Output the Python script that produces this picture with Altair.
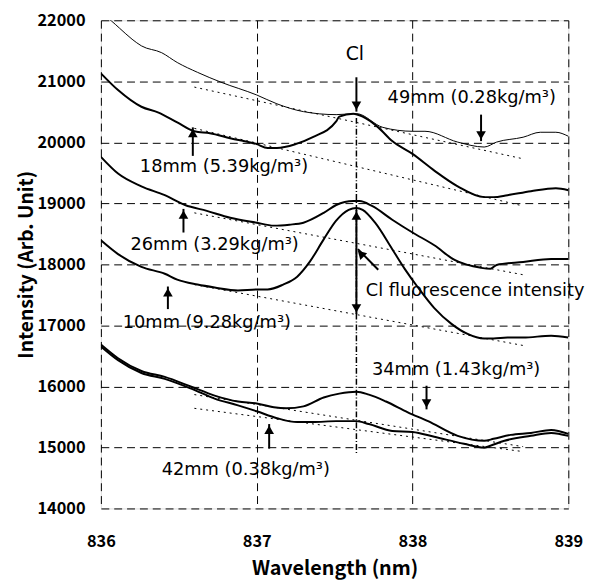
import altair as alt
import pandas as pd

FONT = "Noto Sans CJK JP"
AFONT = "DejaVu Sans"

# ---- spectra ----
x49 = [836.0, 836.07, 836.12, 836.2, 836.26, 836.39, 836.49, 836.62, 836.77, 837.00, 837.13, 837.30, 837.51,
       837.64, 837.81, 838.00, 838.08, 838.29, 838.46, 838.54, 838.71, 838.82, 838.92, 839.0]
y49 = [22120, 21984, 21870, 21690, 21581, 21469, 21308, 21147, 20986, 20776, 20631, 20503, 20454,
       20470, 20245, 20181, 20181, 20004, 19923, 20004, 20084, 20165, 20165, 20100]

x18 = [836.0, 836.11, 836.26, 836.37, 836.49, 836.60, 836.70, 836.83, 837.00, 837.07, 837.13, 837.25, 837.36,
       837.51, 837.53, 837.62, 837.68, 837.78, 837.87, 838.0, 838.14, 838.29, 838.46, 838.52, 838.61, 838.76,
       838.92, 839.0]
y18 = [21131, 20857, 20583, 20487, 20326, 20181, 20149, 20068, 19971, 19907, 19907, 19971, 20084,
       20342, 20422, 20470, 20422, 20245, 20020, 19810, 19537, 19279, 19102, 19102, 19134, 19199,
       19247, 19215]

x26 = [836.0, 836.11, 836.26, 836.41, 836.54, 836.68, 836.83, 837.0, 837.11, 837.21, 837.30, 837.43, 837.51,
       837.62, 837.66, 837.74, 837.87, 838.0, 838.14, 838.27, 838.44, 838.50, 838.54, 838.71, 838.89, 839.0]
y26 = [19762, 19488, 19279, 19134, 18973, 18877, 18764, 18683, 18635, 18651, 18683, 18844, 18973,
       19038, 19038, 18957, 18732, 18522, 18313, 18072, 17943, 17927, 17991, 18040, 18088, 18088]

x10 = [836.0, 836.11, 836.26, 836.41, 836.49, 836.62, 836.73, 836.88, 837.0, 837.07, 837.17, 837.26, 837.34,
       837.43, 837.51, 837.59, 837.64, 837.68, 837.76, 837.87, 837.95, 838.04, 838.14, 838.25, 838.35, 838.46,
       838.52, 838.61, 838.71, 838.89, 839.0]
y10 = [18394, 18168, 17959, 17846, 17750, 17669, 17621, 17573, 17589, 17589, 17669, 17798, 18040,
       18410, 18716, 18893, 18925, 18893, 18683, 18249, 17927, 17605, 17283, 17025, 16864, 16784,
       16784, 16800, 16800, 16832, 16800]

x34 = [836.0, 836.11, 836.26, 836.41, 836.58, 836.73, 836.88, 837.0, 837.11, 837.19, 837.30, 837.43, 837.53,
       837.64, 837.72, 837.83, 837.97, 838.10, 838.29, 838.46, 838.52, 838.63, 838.76, 838.89, 839.0]
y34 = [16687, 16462, 16253, 16156, 15995, 15850, 15753, 15721, 15657, 15641, 15673, 15818, 15882,
       15914, 15866, 15753, 15576, 15431, 15190, 15109, 15141, 15206, 15238, 15286, 15222]

x42 = [836.0, 836.11, 836.26, 836.41, 836.58, 836.73, 836.88, 837.0, 837.13, 837.26, 837.36, 837.51, 837.64,
       837.72, 837.87, 838.0, 838.14, 838.33, 838.46, 838.50, 838.59, 838.76, 838.89, 839.0]
y42 = [16655, 16430, 16220, 16124, 15963, 15801, 15689, 15592, 15479, 15415, 15415, 15431, 15431,
       15383, 15270, 15254, 15174, 15061, 14996, 15028, 15109, 15190, 15238, 15190]

# ---- dotted baselines ----
base_x = [836.6, 838.71]
base_49 = [20905, 19730]
base_18 = [20229, 18957]
base_26 = [18844, 17830]
base_10 = [17669, 16671]
base_34 = [15866, 15013]
base_42 = [15641, 14932]

# ---- Cl line position ----
cl_x = [837.64]
cl_y = [20400]
cl_y2 = [14900]

# ---- arrows: tail -> tip ----
arrow_x0 = [837.64, 838.44, 836.59, 836.53, 836.43, 838.09, 837.08, 837.64, 837.64, 837.78]
arrow_y0 = [21066, 20454, 19778, 18522, 17267, 16011, 14980, 18040, 18040, 17911]
arrow_x1 = [837.64, 838.44, 836.59, 836.53, 836.43, 838.09, 837.08, 837.64, 837.64, 837.65]
arrow_y1 = [20503, 20020, 20245, 18909, 17637, 15624, 15383, 18893, 17186, 18249]
head_x = [837.64, 838.44, 836.59, 836.53, 836.43, 838.09, 837.08, 837.64, 837.64, 837.668]
head_y = [20600, 20115, 20150, 18815, 17540, 15720, 15290, 18800, 17280, 18175]
head_angle = [180, 180, 0, 0, 0, 180, 0, 0, 180, 315]

# ---- labels ----
lab_text = ["49mm (0.28kg/m³)", "18mm (5.39kg/m³)", "26mm (3.29kg/m³)",
            "10mm (9.28kg/m³)", "34mm (1.43kg/m³)", "42mm (0.38kg/m³)"]
lab_x = [838.38, 836.79, 836.73, 836.68, 838.28, 836.93]
lab_y = [20728, 19601, 18313, 17041, 16268, 14626]
cl_text = ["Cl"]
cl_tx = [837.63]
cl_ty = [21453]
fl_text = ["Cl fluorescence intensity"]
fl_x = [837.70]
fl_y = [17556]

rows = []
for name, xs_, ys_ in [("18", x18, y18), ("26", x26, y26), ("10", x10, y10),
                       ("34", x34, y34), ("42", x42, y42)]:
    rows += [{"s": name, "x": a, "y": b} for a, b in zip(xs_, ys_)]
thick_df = pd.DataFrame(rows)
thin_df = pd.DataFrame({"x": x49, "y": y49})
brows = []
for name, ys_ in [("49", base_49), ("18", base_18), ("26", base_26), ("10", base_10),
                  ("34", base_34), ("42", base_42)]:
    brows += [{"s": name, "x": a, "y": b} for a, b in zip(base_x, ys_)]
base_df = pd.DataFrame(brows)
cl_df = pd.DataFrame({"x": cl_x, "y": cl_y, "y2": cl_y2})
arr_df = pd.DataFrame({"x": arrow_x0, "y": arrow_y0, "x2": arrow_x1, "y2": arrow_y1})
head_df = pd.DataFrame({"x": head_x, "y": head_y, "a": head_angle})
lab_df = pd.DataFrame({"t": lab_text, "x": lab_x, "y": lab_y})
clt_df = pd.DataFrame({"t": cl_text, "x": cl_tx, "y": cl_ty})
fl_df = pd.DataFrame({"t": fl_text, "x": fl_x, "y": fl_y})

xs = alt.Scale(domain=[836, 839], nice=False, zero=False)
ys = alt.Scale(domain=[14000, 22000], nice=False, zero=False)

xax = alt.Axis(values=[836, 837, 838, 839], format="d", title="Wavelength (nm)",
               grid=True, gridDash=[8, 5], gridColor="black", gridWidth=1, gridOpacity=1,
               ticks=False, domain=False, labelFlush=False, labelFont=FONT, labelFontSize=16.5,
               labelFontWeight="bold", labelColor="black", labelPadding=25, titleFont=FONT,
               titleFontSize=20, titleFontWeight="bold", titleColor="black", titlePadding=9)
yax = alt.Axis(values=list(range(14000, 22001, 1000)), format="d", title="Intensity (Arb. Unit)",
               grid=True, gridDash=[8, 5], gridColor="black", gridWidth=1, gridOpacity=1,
               ticks=False, domain=False, labelFlush=False, labelFont=FONT, labelFontSize=16.5,
               labelFontWeight="bold", labelColor="black", labelPadding=16, titleFont=FONT,
               titleFontSize=19.5, titleFontWeight="bold", titleColor="black", titlePadding=1)

X = alt.X("x:Q", scale=xs, axis=xax)
Y = alt.Y("y:Q", scale=ys, axis=yax)
Xn = alt.X("x:Q", scale=xs)
Yn = alt.Y("y:Q", scale=ys)

thick = alt.Chart(thick_df).mark_line(color="black", strokeWidth=2, clip=True,
                                      interpolate="monotone").encode(
    x=X, y=Y, detail="s:N", order="x:Q")
thin = alt.Chart(thin_df).mark_line(color="black", strokeWidth=1, clip=True,
                                    interpolate="monotone").encode(x=Xn, y=Yn, order="x:Q")
base = alt.Chart(base_df).mark_line(color="black", strokeWidth=1, strokeDash=[2, 4]).encode(
    x=Xn, y=Yn, detail="s:N")
clline = alt.Chart(cl_df).mark_rule(color="black", strokeWidth=1.5, strokeDash=[6, 2, 1, 2]).encode(
    x=Xn, y=Yn, y2="y2:Q")
shafts = alt.Chart(arr_df).mark_rule(color="black", strokeWidth=2).encode(
    x=Xn, y=Yn, x2="x2:Q", y2="y2:Q")
heads = alt.Chart(head_df).mark_point(shape="triangle-up", filled=True, color="black",
                                      size=95, opacity=1).encode(
    x=Xn, y=Yn, angle=alt.Angle("a:Q", scale=None))
labels = alt.Chart(lab_df).mark_text(font=AFONT, fontSize=18, color="black",
                                     align="center", baseline="middle").encode(
    x=Xn, y=Yn, text="t:N")
clt = alt.Chart(clt_df).mark_text(font=AFONT, fontSize=19, color="black",
                                  align="center", baseline="middle").encode(
    x=Xn, y=Yn, text="t:N")
fl = alt.Chart(fl_df).mark_text(font=AFONT, fontSize=18, color="black",
                                align="left", baseline="middle").encode(
    x=Xn, y=Yn, text="t:N")

chart = alt.layer(base, clline, thin, thick, shafts, heads, labels, clt, fl).properties(
    width=473, height=494,
    autosize=alt.AutoSizeParams(type="none"),
    padding={"left": 94, "top": 9, "right": 26, "bottom": 72},
).configure_view(stroke="black", strokeWidth=2.5).configure(background="white")

chart.save("out.html", embed_options={"renderer": "svg", "actions": False})
